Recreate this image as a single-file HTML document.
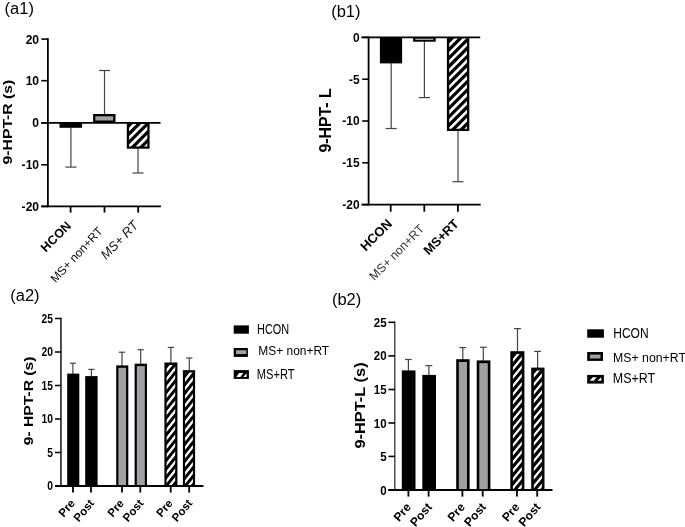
<!DOCTYPE html>
<html><head><meta charset="utf-8"><title>chart</title>
<style>
html,body{margin:0;padding:0;background:#fff;}
body{width:685px;height:527px;overflow:hidden;}
svg{display:block;will-change:transform;font-family:"Liberation Sans",sans-serif;}
</style></head><body>
<svg width="685" height="527" viewBox="0 0 685 527">
<defs>
<clipPath id="c0"><rect x="129.10" y="124.00" width="18.20" height="22.40"/></clipPath>
<clipPath id="c1"><rect x="449.20" y="38.30" width="17.80" height="90.40"/></clipPath>
<clipPath id="c2"><rect x="166.60" y="364.90" width="8.60" height="120.60"/></clipPath>
<clipPath id="c3"><rect x="185.10" y="372.60" width="7.80" height="112.90"/></clipPath>
<clipPath id="c4"><rect x="512.90" y="354.00" width="8.90" height="135.50"/></clipPath>
<clipPath id="c5"><rect x="533.80" y="370.40" width="8.10" height="119.10"/></clipPath>
</defs>
<rect x="0" y="0" width="685" height="527" fill="#fff"/>

<text transform="translate(4.60,13.70)  rotate(0) scale(1.03,1.0)" font-size="16" font-weight="normal" font-style="normal" text-anchor="start" fill="#000">(a1)</text>
<line x1="70.90" y1="127.00" x2="70.90" y2="167.10" stroke="#444" stroke-width="1.2"/>
<line x1="65.30" y1="167.10" x2="76.50" y2="167.10" stroke="#444" stroke-width="1.2"/>
<line x1="104.50" y1="115.00" x2="104.50" y2="70.50" stroke="#444" stroke-width="1.2"/>
<line x1="99.00" y1="70.50" x2="110.00" y2="70.50" stroke="#444" stroke-width="1.2"/>
<line x1="138.00" y1="148.00" x2="138.00" y2="173.00" stroke="#444" stroke-width="1.2"/>
<line x1="132.50" y1="173.00" x2="143.50" y2="173.00" stroke="#444" stroke-width="1.2"/>
<rect x="59.50" y="122.80" width="22.60" height="5.00" fill="#000"/>
<rect x="93.10" y="114.00" width="22.40" height="8.80" fill="#000"/>
<rect x="95.40" y="116.30" width="17.80" height="4.20" fill="#a1a1a5"/>
<rect x="126.80" y="122.80" width="22.80" height="25.90" fill="#000"/>
<path clip-path="url(#c0)" d="M126.10 113.58L150.30 89.38L150.30 93.28L126.10 117.48ZM126.10 122.07L150.30 97.87L150.30 101.77L126.10 125.97ZM126.10 130.55L150.30 106.35L150.30 110.25L126.10 134.45ZM126.10 139.04L150.30 114.84L150.30 118.74L126.10 142.94ZM126.10 147.52L150.30 123.32L150.30 127.22L126.10 151.42ZM126.10 156.01L150.30 131.81L150.30 135.71L126.10 159.91ZM126.10 164.49L150.30 140.29L150.30 144.19L126.10 168.39ZM126.10 172.98L150.30 148.78L150.30 152.68L126.10 176.88ZM126.10 181.46L150.30 157.26L150.30 161.16L126.10 185.36Z" fill="#fff"/>
<line x1="47.90" y1="38.30" x2="47.90" y2="207.30" stroke="#000" stroke-width="1.8"/>
<line x1="41.30" y1="39.10" x2="47.90" y2="39.10" stroke="#000" stroke-width="1.6"/>
<line x1="41.30" y1="80.70" x2="47.90" y2="80.70" stroke="#000" stroke-width="1.6"/>
<line x1="41.30" y1="122.80" x2="47.90" y2="122.80" stroke="#000" stroke-width="1.6"/>
<line x1="41.30" y1="164.80" x2="47.90" y2="164.80" stroke="#000" stroke-width="1.6"/>
<line x1="41.30" y1="206.40" x2="47.90" y2="206.40" stroke="#000" stroke-width="1.6"/>
<line x1="41.30" y1="122.80" x2="160.50" y2="122.80" stroke="#000" stroke-width="1.8"/>
<line x1="41.30" y1="206.40" x2="160.90" y2="206.40" stroke="#000" stroke-width="1.8"/>
<line x1="70.60" y1="206.40" x2="70.60" y2="212.60" stroke="#000" stroke-width="1.8"/>
<line x1="104.50" y1="206.40" x2="104.50" y2="212.60" stroke="#000" stroke-width="1.8"/>
<line x1="138.20" y1="206.40" x2="138.20" y2="212.60" stroke="#000" stroke-width="1.8"/>
<text transform="translate(39.10,43.55)  rotate(0) scale(0.96,1.0)" font-size="12.6" font-weight="bold" font-style="normal" text-anchor="end" fill="#000">20</text>
<text transform="translate(39.10,85.15)  rotate(0) scale(0.96,1.0)" font-size="12.6" font-weight="bold" font-style="normal" text-anchor="end" fill="#000">10</text>
<text transform="translate(39.10,127.25)  rotate(0) scale(0.96,1.0)" font-size="12.6" font-weight="bold" font-style="normal" text-anchor="end" fill="#000">0</text>
<text transform="translate(39.10,169.25)  rotate(0) scale(0.96,1.0)" font-size="12.6" font-weight="bold" font-style="normal" text-anchor="end" fill="#000">-10</text>
<text transform="translate(39.10,210.85)  rotate(0) scale(0.96,1.0)" font-size="12.6" font-weight="bold" font-style="normal" text-anchor="end" fill="#000">-20</text>
<text transform="translate(11.80,164.40)  rotate(-90) scale(1.165,1.0)" font-size="13.5" font-weight="bold" font-style="normal" text-anchor="start" fill="#000">9-HPT-R (s)</text>
<text transform="translate(71.90,226.60)  rotate(-45) scale(1.0,1.0)" font-size="12.5" font-weight="bold" font-style="normal" text-anchor="end" fill="#000">HCON</text>
<text transform="translate(103.50,231.80)  rotate(-47) scale(1.0,1.0)" font-size="11.9" font-weight="normal" font-style="normal" text-anchor="end" fill="#0a0a0a">MS+ non+RT</text>
<text transform="translate(138.90,226.00)  rotate(-46) scale(1.0,1.0)" font-size="12.9" font-weight="normal" font-style="italic" text-anchor="end" fill="#111">MS+ RT</text>
<text transform="translate(331.20,17.15)  rotate(0) scale(1.03,1.0)" font-size="16" font-weight="normal" font-style="normal" text-anchor="start" fill="#000">(b1)</text>
<line x1="391.20" y1="63.00" x2="391.20" y2="128.50" stroke="#444" stroke-width="1.2"/>
<line x1="385.70" y1="128.50" x2="396.70" y2="128.50" stroke="#444" stroke-width="1.2"/>
<line x1="424.40" y1="41.00" x2="424.40" y2="97.60" stroke="#444" stroke-width="1.2"/>
<line x1="418.80" y1="97.60" x2="430.00" y2="97.60" stroke="#444" stroke-width="1.2"/>
<line x1="458.00" y1="130.00" x2="458.00" y2="181.70" stroke="#444" stroke-width="1.2"/>
<line x1="452.50" y1="181.70" x2="463.50" y2="181.70" stroke="#444" stroke-width="1.2"/>
<rect x="379.90" y="37.40" width="22.20" height="26.00" fill="#000"/>
<rect x="413.10" y="37.40" width="22.60" height="4.30" fill="#000"/>
<rect x="415.4" y="38.5" width="18" height="1.5" fill="#a1a1a5"/>
<rect x="446.90" y="37.40" width="22.40" height="93.60" fill="#000"/>
<path clip-path="url(#c1)" d="M446.20 29.52L470.00 5.72L470.00 9.52L446.20 33.32ZM446.20 37.91L470.00 14.11L470.00 17.91L446.20 41.71ZM446.20 46.30L470.00 22.50L470.00 26.30L446.20 50.10ZM446.20 54.69L470.00 30.89L470.00 34.69L446.20 58.49ZM446.20 63.08L470.00 39.28L470.00 43.08L446.20 66.88ZM446.20 71.47L470.00 47.67L470.00 51.47L446.20 75.27ZM446.20 79.86L470.00 56.06L470.00 59.86L446.20 83.66ZM446.20 88.25L470.00 64.45L470.00 68.25L446.20 92.05ZM446.20 96.64L470.00 72.84L470.00 76.64L446.20 100.44ZM446.20 105.03L470.00 81.23L470.00 85.03L446.20 108.83ZM446.20 113.42L470.00 89.62L470.00 93.42L446.20 117.22ZM446.20 121.81L470.00 98.01L470.00 101.81L446.20 125.61ZM446.20 130.20L470.00 106.40L470.00 110.20L446.20 134.00ZM446.20 138.59L470.00 114.79L470.00 118.59L446.20 142.39ZM446.20 146.98L470.00 123.18L470.00 126.98L446.20 150.78ZM446.20 155.37L470.00 131.57L470.00 135.37L446.20 159.17ZM446.20 163.76L470.00 139.96L470.00 143.76L446.20 167.56Z" fill="#fff"/>
<line x1="368.60" y1="36.50" x2="368.60" y2="205.50" stroke="#000" stroke-width="1.8"/>
<line x1="362.20" y1="37.40" x2="368.60" y2="37.40" stroke="#000" stroke-width="1.6"/>
<line x1="362.20" y1="79.20" x2="368.60" y2="79.20" stroke="#000" stroke-width="1.6"/>
<line x1="362.20" y1="121.00" x2="368.60" y2="121.00" stroke="#000" stroke-width="1.6"/>
<line x1="362.20" y1="162.80" x2="368.60" y2="162.80" stroke="#000" stroke-width="1.6"/>
<line x1="362.20" y1="204.60" x2="368.60" y2="204.60" stroke="#000" stroke-width="1.6"/>
<line x1="361.40" y1="37.40" x2="480.20" y2="37.40" stroke="#000" stroke-width="1.8"/>
<line x1="361.50" y1="204.60" x2="480.70" y2="204.60" stroke="#000" stroke-width="1.8"/>
<line x1="390.70" y1="204.60" x2="390.70" y2="211.70" stroke="#000" stroke-width="1.8"/>
<line x1="424.30" y1="204.60" x2="424.30" y2="211.70" stroke="#000" stroke-width="1.8"/>
<line x1="457.90" y1="204.60" x2="457.90" y2="211.70" stroke="#000" stroke-width="1.8"/>
<text transform="translate(359.60,41.85)  rotate(0) scale(0.95,1.0)" font-size="12.6" font-weight="bold" font-style="normal" text-anchor="end" fill="#000">0</text>
<text transform="translate(359.60,83.65)  rotate(0) scale(0.95,1.0)" font-size="12.6" font-weight="bold" font-style="normal" text-anchor="end" fill="#000">-5</text>
<text transform="translate(359.60,125.45)  rotate(0) scale(0.95,1.0)" font-size="12.6" font-weight="bold" font-style="normal" text-anchor="end" fill="#000">-10</text>
<text transform="translate(359.60,167.25)  rotate(0) scale(0.95,1.0)" font-size="12.6" font-weight="bold" font-style="normal" text-anchor="end" fill="#000">-15</text>
<text transform="translate(359.60,209.05)  rotate(0) scale(0.95,1.0)" font-size="12.6" font-weight="bold" font-style="normal" text-anchor="end" fill="#000">-20</text>
<text transform="translate(331.40,152.60)  rotate(-90) scale(1.005,1.0)" font-size="15.8" font-weight="bold" font-style="normal" text-anchor="start" fill="#000">9-HPT- L</text>
<text transform="translate(392.90,224.50)  rotate(-45) scale(1.0,1.0)" font-size="13.1" font-weight="bold" font-style="normal" text-anchor="end" fill="#000">HCON</text>
<text transform="translate(425.00,229.50)  rotate(-45.5) scale(1.0,1.0)" font-size="12.2" font-weight="normal" font-style="normal" text-anchor="end" fill="#333">MS+ non+RT</text>
<text transform="translate(459.60,224.60)  rotate(-45) scale(1.0,1.0)" font-size="12.8" font-weight="bold" font-style="normal" text-anchor="end" fill="#000">MS+RT</text>
<text transform="translate(10.30,301.00)  rotate(0) scale(1.03,1.0)" font-size="16" font-weight="normal" font-style="normal" text-anchor="start" fill="#000">(a2)</text>
<line x1="72.90" y1="374.60" x2="72.90" y2="363.20" stroke="#444" stroke-width="1.2"/>
<line x1="69.80" y1="363.20" x2="76.00" y2="363.20" stroke="#444" stroke-width="1.2"/>
<line x1="91.40" y1="377.10" x2="91.40" y2="369.40" stroke="#444" stroke-width="1.2"/>
<line x1="88.30" y1="369.40" x2="94.50" y2="369.40" stroke="#444" stroke-width="1.2"/>
<line x1="122.00" y1="366.40" x2="122.00" y2="352.20" stroke="#444" stroke-width="1.2"/>
<line x1="118.90" y1="352.20" x2="125.10" y2="352.20" stroke="#444" stroke-width="1.2"/>
<line x1="140.70" y1="364.70" x2="140.70" y2="349.70" stroke="#444" stroke-width="1.2"/>
<line x1="137.60" y1="349.70" x2="143.80" y2="349.70" stroke="#444" stroke-width="1.2"/>
<line x1="170.90" y1="363.50" x2="170.90" y2="347.40" stroke="#444" stroke-width="1.2"/>
<line x1="167.80" y1="347.40" x2="174.00" y2="347.40" stroke="#444" stroke-width="1.2"/>
<line x1="189.30" y1="371.20" x2="189.30" y2="358.00" stroke="#444" stroke-width="1.2"/>
<line x1="186.20" y1="358.00" x2="192.40" y2="358.00" stroke="#444" stroke-width="1.2"/>
<rect x="67.20" y="373.60" width="12.10" height="112.40" fill="#000"/>
<rect x="85.20" y="376.10" width="12.40" height="109.90" fill="#000"/>
<rect x="116.20" y="365.40" width="12.10" height="120.60" fill="#000"/>
<rect x="118.40" y="367.80" width="7.70" height="117.70" fill="#a1a1a5"/>
<rect x="134.60" y="363.70" width="12.40" height="122.30" fill="#000"/>
<rect x="136.80" y="366.10" width="8.00" height="119.40" fill="#a1a1a5"/>
<rect x="164.40" y="362.50" width="13.00" height="123.50" fill="#000"/>
<path clip-path="url(#c2)" d="M163.60 355.50L178.20 337.25L178.20 341.05L163.60 359.30ZM163.60 364.00L178.20 345.75L178.20 349.55L163.60 367.80ZM163.60 372.50L178.20 354.25L178.20 358.05L163.60 376.30ZM163.60 381.00L178.20 362.75L178.20 366.55L163.60 384.80ZM163.60 389.50L178.20 371.25L178.20 375.05L163.60 393.30ZM163.60 398.00L178.20 379.75L178.20 383.55L163.60 401.80ZM163.60 406.50L178.20 388.25L178.20 392.05L163.60 410.30ZM163.60 415.00L178.20 396.75L178.20 400.55L163.60 418.80ZM163.60 423.50L178.20 405.25L178.20 409.05L163.60 427.30ZM163.60 432.00L178.20 413.75L178.20 417.55L163.60 435.80ZM163.60 440.50L178.20 422.25L178.20 426.05L163.60 444.30ZM163.60 449.00L178.20 430.75L178.20 434.55L163.60 452.80ZM163.60 457.50L178.20 439.25L178.20 443.05L163.60 461.30ZM163.60 466.00L178.20 447.75L178.20 451.55L163.60 469.80ZM163.60 474.50L178.20 456.25L178.20 460.05L163.60 478.30ZM163.60 483.00L178.20 464.75L178.20 468.55L163.60 486.80ZM163.60 491.50L178.20 473.25L178.20 477.05L163.60 495.30ZM163.60 500.00L178.20 481.75L178.20 485.55L163.60 503.80ZM163.60 508.50L178.20 490.25L178.20 494.05L163.60 512.30Z" fill="#fff"/>
<rect x="182.90" y="370.20" width="12.20" height="115.80" fill="#000"/>
<path clip-path="url(#c3)" d="M182.10 364.77L195.90 347.52L195.90 351.32L182.10 368.57ZM182.10 373.27L195.90 356.02L195.90 359.82L182.10 377.07ZM182.10 381.77L195.90 364.52L195.90 368.32L182.10 385.57ZM182.10 390.27L195.90 373.02L195.90 376.82L182.10 394.07ZM182.10 398.77L195.90 381.52L195.90 385.32L182.10 402.57ZM182.10 407.27L195.90 390.02L195.90 393.82L182.10 411.07ZM182.10 415.77L195.90 398.52L195.90 402.32L182.10 419.57ZM182.10 424.27L195.90 407.02L195.90 410.82L182.10 428.07ZM182.10 432.77L195.90 415.52L195.90 419.32L182.10 436.57ZM182.10 441.27L195.90 424.02L195.90 427.82L182.10 445.07ZM182.10 449.77L195.90 432.52L195.90 436.32L182.10 453.57ZM182.10 458.27L195.90 441.02L195.90 444.82L182.10 462.07ZM182.10 466.77L195.90 449.52L195.90 453.32L182.10 470.57ZM182.10 475.27L195.90 458.02L195.90 461.82L182.10 479.07ZM182.10 483.77L195.90 466.52L195.90 470.32L182.10 487.57ZM182.10 492.27L195.90 475.02L195.90 478.82L182.10 496.07ZM182.10 500.77L195.90 483.52L195.90 487.32L182.10 504.57ZM182.10 509.27L195.90 492.02L195.90 495.82L182.10 513.07Z" fill="#fff"/>
<line x1="60.95" y1="317.70" x2="60.95" y2="486.90" stroke="#0a0a0a" stroke-width="1.45"/>
<line x1="55.00" y1="318.50" x2="61.10" y2="318.50" stroke="#000" stroke-width="1.5"/>
<line x1="55.00" y1="352.00" x2="61.10" y2="352.00" stroke="#000" stroke-width="1.5"/>
<line x1="55.00" y1="385.50" x2="61.10" y2="385.50" stroke="#000" stroke-width="1.5"/>
<line x1="55.00" y1="419.00" x2="61.10" y2="419.00" stroke="#000" stroke-width="1.5"/>
<line x1="55.00" y1="452.50" x2="61.10" y2="452.50" stroke="#000" stroke-width="1.5"/>
<line x1="55.00" y1="486.00" x2="61.10" y2="486.00" stroke="#000" stroke-width="1.5"/>
<line x1="55.00" y1="486.00" x2="203.40" y2="486.00" stroke="#000" stroke-width="1.8"/>
<line x1="73.00" y1="486.00" x2="73.00" y2="492.60" stroke="#000" stroke-width="1.8"/>
<line x1="91.00" y1="486.00" x2="91.00" y2="492.60" stroke="#000" stroke-width="1.8"/>
<line x1="122.00" y1="486.00" x2="122.00" y2="492.60" stroke="#000" stroke-width="1.8"/>
<line x1="140.30" y1="486.00" x2="140.30" y2="492.60" stroke="#000" stroke-width="1.8"/>
<line x1="170.70" y1="486.00" x2="170.70" y2="492.60" stroke="#000" stroke-width="1.8"/>
<line x1="189.20" y1="486.00" x2="189.20" y2="492.60" stroke="#000" stroke-width="1.8"/>
<text transform="translate(53.00,322.90)  rotate(0) scale(0.83,1.0)" font-size="12.4" font-weight="bold" font-style="normal" text-anchor="end" fill="#000">25</text>
<text transform="translate(53.00,356.40)  rotate(0) scale(0.83,1.0)" font-size="12.4" font-weight="bold" font-style="normal" text-anchor="end" fill="#000">20</text>
<text transform="translate(53.00,389.90)  rotate(0) scale(0.83,1.0)" font-size="12.4" font-weight="bold" font-style="normal" text-anchor="end" fill="#000">15</text>
<text transform="translate(53.00,423.40)  rotate(0) scale(0.83,1.0)" font-size="12.4" font-weight="bold" font-style="normal" text-anchor="end" fill="#000">10</text>
<text transform="translate(53.00,456.90)  rotate(0) scale(0.83,1.0)" font-size="12.4" font-weight="bold" font-style="normal" text-anchor="end" fill="#000">5</text>
<text transform="translate(53.00,490.40)  rotate(0) scale(0.83,1.0)" font-size="12.4" font-weight="bold" font-style="normal" text-anchor="end" fill="#000">0</text>
<text transform="translate(33.30,445.30)  rotate(-90) scale(1.275,1.0)" font-size="12.3" font-weight="bold" font-style="normal" text-anchor="start" fill="#000">9- HPT-R (s)</text>
<text transform="translate(75.70,503.50)  rotate(-50) scale(1.0,1.0)" font-size="11.5" font-weight="bold" font-style="normal" text-anchor="end" fill="#000">Pre</text>
<text transform="translate(94.80,503.50)  rotate(-50) scale(1.0,1.0)" font-size="11.5" font-weight="bold" font-style="normal" text-anchor="end" fill="#000">Post</text>
<text transform="translate(124.70,503.50)  rotate(-50) scale(1.0,1.0)" font-size="11.5" font-weight="bold" font-style="normal" text-anchor="end" fill="#000">Pre</text>
<text transform="translate(144.10,503.50)  rotate(-50) scale(1.0,1.0)" font-size="11.5" font-weight="bold" font-style="normal" text-anchor="end" fill="#000">Post</text>
<text transform="translate(173.40,503.50)  rotate(-50) scale(1.0,1.0)" font-size="11.5" font-weight="bold" font-style="normal" text-anchor="end" fill="#000">Pre</text>
<text transform="translate(193.00,503.50)  rotate(-50) scale(1.0,1.0)" font-size="11.5" font-weight="bold" font-style="normal" text-anchor="end" fill="#000">Post</text>
<rect x="233.7" y="325.4" width="15.2" height="8.3" fill="#000"/>
<rect x="233.7" y="348.0" width="14.2" height="8.9" fill="#000"/><rect x="236" y="350.2" width="10.4" height="3.9" fill="#a1a1a5"/>
<rect x="233.7" y="370.1" width="15.2" height="8.8" fill="#000"/>
<path d="M236.3 376.9 L239.1 373.0 L243.2 373.0 L240.4 376.9 Z M243.3 376.9 L246.6 373.2 L246.6 376.9 Z" fill="#fff"/>
<text transform="translate(257.00,333.80)  rotate(0) scale(0.78,1.0)" font-size="14.0" font-weight="normal" font-style="normal" text-anchor="start" fill="#000">HCON</text>
<text transform="translate(258.30,354.80)  rotate(0) scale(0.957,1.0)" font-size="12.5" font-weight="normal" font-style="normal" text-anchor="start" fill="#000">MS+ non+RT</text>
<text transform="translate(256.80,379.10)  rotate(0) scale(0.788,1.0)" font-size="14.1" font-weight="normal" font-style="normal" text-anchor="start" fill="#000">MS+RT</text>
<text transform="translate(331.90,305.20)  rotate(0) scale(1.03,1.0)" font-size="16" font-weight="normal" font-style="normal" text-anchor="start" fill="#000">(b2)</text>
<line x1="408.40" y1="371.40" x2="408.40" y2="359.50" stroke="#444" stroke-width="1.2"/>
<line x1="405.00" y1="359.50" x2="411.80" y2="359.50" stroke="#444" stroke-width="1.2"/>
<line x1="428.90" y1="375.90" x2="428.90" y2="365.60" stroke="#444" stroke-width="1.2"/>
<line x1="425.50" y1="365.60" x2="432.30" y2="365.60" stroke="#444" stroke-width="1.2"/>
<line x1="462.80" y1="360.20" x2="462.80" y2="347.60" stroke="#444" stroke-width="1.2"/>
<line x1="459.40" y1="347.60" x2="466.20" y2="347.60" stroke="#444" stroke-width="1.2"/>
<line x1="483.30" y1="361.40" x2="483.30" y2="347.30" stroke="#444" stroke-width="1.2"/>
<line x1="479.90" y1="347.30" x2="486.70" y2="347.30" stroke="#444" stroke-width="1.2"/>
<line x1="517.50" y1="352.20" x2="517.50" y2="328.60" stroke="#444" stroke-width="1.2"/>
<line x1="514.10" y1="328.60" x2="520.90" y2="328.60" stroke="#444" stroke-width="1.2"/>
<line x1="537.60" y1="368.60" x2="537.60" y2="351.40" stroke="#444" stroke-width="1.2"/>
<line x1="534.20" y1="351.40" x2="541.00" y2="351.40" stroke="#444" stroke-width="1.2"/>
<rect x="401.80" y="370.40" width="13.70" height="119.60" fill="#000"/>
<rect x="422.30" y="374.90" width="13.70" height="115.10" fill="#000"/>
<rect x="456.20" y="359.20" width="13.40" height="130.80" fill="#000"/>
<rect x="458.80" y="362.00" width="8.20" height="127.50" fill="#a1a1a5"/>
<rect x="476.70" y="360.40" width="13.70" height="129.60" fill="#000"/>
<rect x="479.30" y="363.20" width="8.50" height="126.30" fill="#a1a1a5"/>
<rect x="510.30" y="351.20" width="14.10" height="138.80" fill="#000"/>
<path clip-path="url(#c4)" d="M509.90 345.22L524.80 327.34L524.80 330.94L509.90 348.82ZM509.90 353.72L524.80 335.84L524.80 339.44L509.90 357.32ZM509.90 362.22L524.80 344.34L524.80 347.94L509.90 365.82ZM509.90 370.72L524.80 352.84L524.80 356.44L509.90 374.32ZM509.90 379.22L524.80 361.34L524.80 364.94L509.90 382.82ZM509.90 387.72L524.80 369.84L524.80 373.44L509.90 391.32ZM509.90 396.22L524.80 378.34L524.80 381.94L509.90 399.82ZM509.90 404.72L524.80 386.84L524.80 390.44L509.90 408.32ZM509.90 413.22L524.80 395.34L524.80 398.94L509.90 416.82ZM509.90 421.72L524.80 403.84L524.80 407.44L509.90 425.32ZM509.90 430.22L524.80 412.34L524.80 415.94L509.90 433.82ZM509.90 438.72L524.80 420.84L524.80 424.44L509.90 442.32ZM509.90 447.22L524.80 429.34L524.80 432.94L509.90 450.82ZM509.90 455.72L524.80 437.84L524.80 441.44L509.90 459.32ZM509.90 464.22L524.80 446.34L524.80 449.94L509.90 467.82ZM509.90 472.72L524.80 454.84L524.80 458.44L509.90 476.32ZM509.90 481.22L524.80 463.34L524.80 466.94L509.90 484.82ZM509.90 489.72L524.80 471.84L524.80 475.44L509.90 493.32ZM509.90 498.22L524.80 480.34L524.80 483.94L509.90 501.82ZM509.90 506.72L524.80 488.84L524.80 492.44L509.90 510.32ZM509.90 515.22L524.80 497.34L524.80 500.94L509.90 518.82Z" fill="#fff"/>
<rect x="531.20" y="367.60" width="13.30" height="122.40" fill="#000"/>
<path clip-path="url(#c5)" d="M530.80 360.84L544.90 343.92L544.90 347.52L530.80 364.44ZM530.80 369.34L544.90 352.42L544.90 356.02L530.80 372.94ZM530.80 377.84L544.90 360.92L544.90 364.52L530.80 381.44ZM530.80 386.34L544.90 369.42L544.90 373.02L530.80 389.94ZM530.80 394.84L544.90 377.92L544.90 381.52L530.80 398.44ZM530.80 403.34L544.90 386.42L544.90 390.02L530.80 406.94ZM530.80 411.84L544.90 394.92L544.90 398.52L530.80 415.44ZM530.80 420.34L544.90 403.42L544.90 407.02L530.80 423.94ZM530.80 428.84L544.90 411.92L544.90 415.52L530.80 432.44ZM530.80 437.34L544.90 420.42L544.90 424.02L530.80 440.94ZM530.80 445.84L544.90 428.92L544.90 432.52L530.80 449.44ZM530.80 454.34L544.90 437.42L544.90 441.02L530.80 457.94ZM530.80 462.84L544.90 445.92L544.90 449.52L530.80 466.44ZM530.80 471.34L544.90 454.42L544.90 458.02L530.80 474.94ZM530.80 479.84L544.90 462.92L544.90 466.52L530.80 483.44ZM530.80 488.34L544.90 471.42L544.90 475.02L530.80 491.94ZM530.80 496.84L544.90 479.92L544.90 483.52L530.80 500.44ZM530.80 505.34L544.90 488.42L544.90 492.02L530.80 508.94ZM530.80 513.84L544.90 496.92L544.90 500.52L530.80 517.44Z" fill="#fff"/>
<line x1="394.80" y1="321.50" x2="394.80" y2="490.70" stroke="#3a3a3a" stroke-width="1.35"/>
<line x1="388.40" y1="322.30" x2="394.90" y2="322.30" stroke="#000" stroke-width="1.6"/>
<line x1="388.40" y1="355.90" x2="394.90" y2="355.90" stroke="#000" stroke-width="1.6"/>
<line x1="388.40" y1="389.50" x2="394.90" y2="389.50" stroke="#000" stroke-width="1.6"/>
<line x1="388.40" y1="423.00" x2="394.90" y2="423.00" stroke="#000" stroke-width="1.6"/>
<line x1="388.40" y1="456.40" x2="394.90" y2="456.40" stroke="#000" stroke-width="1.6"/>
<line x1="388.40" y1="490.00" x2="394.90" y2="490.00" stroke="#000" stroke-width="1.6"/>
<line x1="388.30" y1="490.00" x2="552.50" y2="490.00" stroke="#000" stroke-width="1.8"/>
<line x1="408.40" y1="490.00" x2="408.40" y2="496.60" stroke="#000" stroke-width="1.8"/>
<line x1="428.60" y1="490.00" x2="428.60" y2="496.60" stroke="#000" stroke-width="1.8"/>
<line x1="462.40" y1="490.00" x2="462.40" y2="496.60" stroke="#000" stroke-width="1.8"/>
<line x1="482.70" y1="490.00" x2="482.70" y2="496.60" stroke="#000" stroke-width="1.8"/>
<line x1="516.90" y1="490.00" x2="516.90" y2="496.60" stroke="#000" stroke-width="1.8"/>
<line x1="537.20" y1="490.00" x2="537.20" y2="496.60" stroke="#000" stroke-width="1.8"/>
<text transform="translate(386.70,326.80)  rotate(0) scale(0.93,1.0)" font-size="12.4" font-weight="bold" font-style="normal" text-anchor="end" fill="#000">25</text>
<text transform="translate(386.70,360.40)  rotate(0) scale(0.93,1.0)" font-size="12.4" font-weight="bold" font-style="normal" text-anchor="end" fill="#000">20</text>
<text transform="translate(386.70,394.00)  rotate(0) scale(0.93,1.0)" font-size="12.4" font-weight="bold" font-style="normal" text-anchor="end" fill="#000">15</text>
<text transform="translate(386.70,427.50)  rotate(0) scale(0.93,1.0)" font-size="12.4" font-weight="bold" font-style="normal" text-anchor="end" fill="#000">10</text>
<text transform="translate(386.70,460.90)  rotate(0) scale(0.93,1.0)" font-size="12.4" font-weight="bold" font-style="normal" text-anchor="end" fill="#000">5</text>
<text transform="translate(386.70,494.50)  rotate(0) scale(0.93,1.0)" font-size="12.4" font-weight="bold" font-style="normal" text-anchor="end" fill="#000">0</text>
<text transform="translate(364.90,448.60)  rotate(-90) scale(1.147,1.0)" font-size="14.3" font-weight="bold" font-style="normal" text-anchor="start" fill="#000">9-HPT-L (s)</text>
<text transform="translate(411.70,507.50)  rotate(-49) scale(1.0,1.0)" font-size="12.1" font-weight="bold" font-style="normal" text-anchor="end" fill="#000">Pre</text>
<text transform="translate(432.60,507.50)  rotate(-49) scale(1.0,1.0)" font-size="12.1" font-weight="bold" font-style="normal" text-anchor="end" fill="#000">Post</text>
<text transform="translate(465.70,507.50)  rotate(-49) scale(1.0,1.0)" font-size="12.1" font-weight="bold" font-style="normal" text-anchor="end" fill="#000">Pre</text>
<text transform="translate(486.70,507.50)  rotate(-49) scale(1.0,1.0)" font-size="12.1" font-weight="bold" font-style="normal" text-anchor="end" fill="#000">Post</text>
<text transform="translate(520.20,507.50)  rotate(-49) scale(1.0,1.0)" font-size="12.1" font-weight="bold" font-style="normal" text-anchor="end" fill="#000">Pre</text>
<text transform="translate(541.20,507.50)  rotate(-49) scale(1.0,1.0)" font-size="12.1" font-weight="bold" font-style="normal" text-anchor="end" fill="#000">Post</text>
<rect x="587.2" y="329.3" width="16.7" height="8.4" fill="#000"/>
<rect x="587.2" y="352.0" width="15.8" height="8.9" fill="#000"/><rect x="589.9" y="354.6" width="10.6" height="3.9" fill="#a1a1a5"/>
<rect x="587.2" y="374.9" width="16.7" height="8.7" fill="#000"/>
<path d="M589.7 380.8 L592.8 377.2 L596.8 377.2 L593.7 380.8 Z M597.4 380.8 L601.3 377.2 L601.3 380.8 Z" fill="#fff"/>
<text transform="translate(613.20,338.10)  rotate(0) scale(0.82,1.0)" font-size="14.7" font-weight="normal" font-style="normal" text-anchor="start" fill="#000">HCON</text>
<text transform="translate(613.00,362.40)  rotate(0) scale(0.962,1.0)" font-size="12.8" font-weight="normal" font-style="normal" text-anchor="start" fill="#000">MS+ non+RT</text>
<text transform="translate(612.80,383.20)  rotate(0) scale(0.855,1.0)" font-size="14.6" font-weight="normal" font-style="normal" text-anchor="start" fill="#000">MS+RT</text>
</svg></body></html>
